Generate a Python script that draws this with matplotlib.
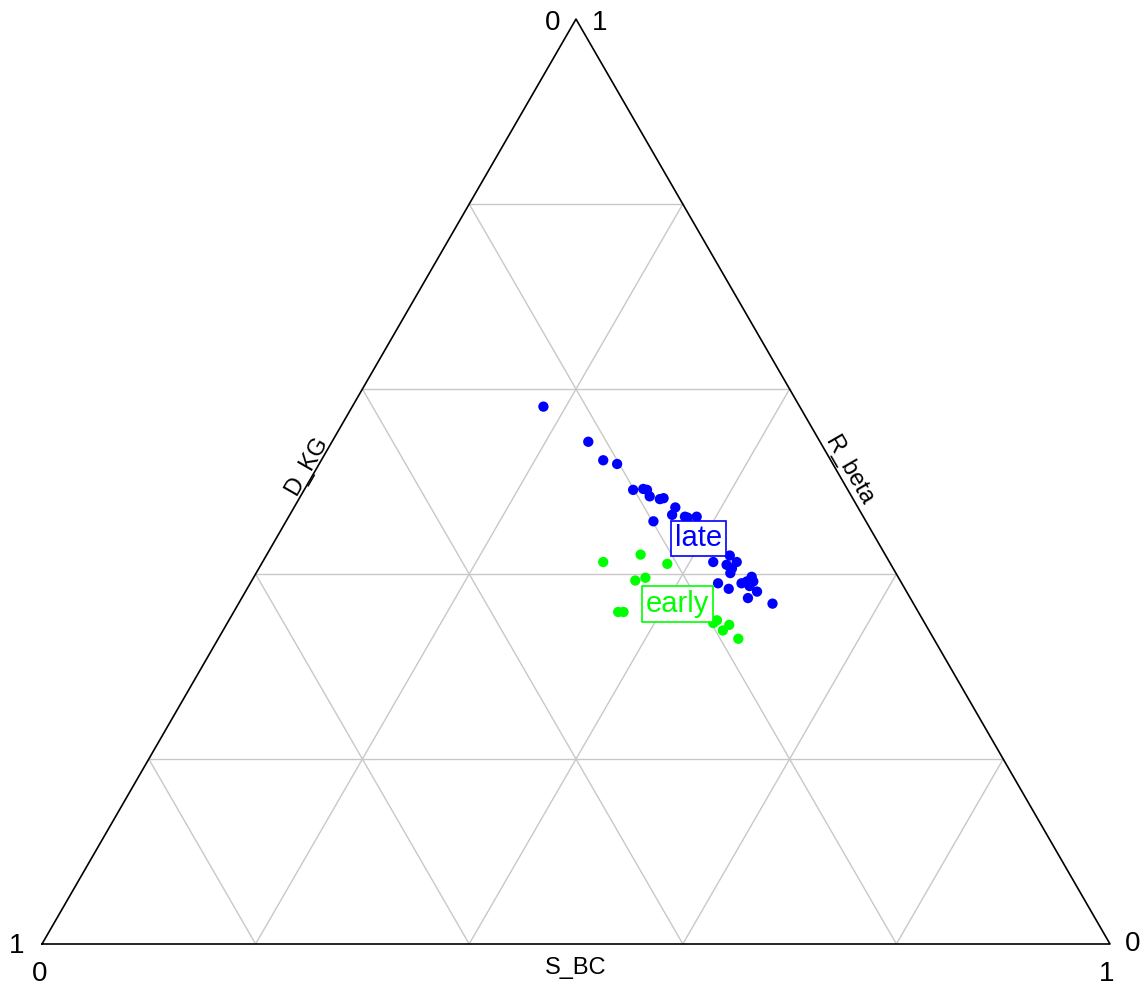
import numpy as np
import matplotlib
matplotlib.use("Agg")
import matplotlib.pyplot as plt

plt.rcParams['font.family'] = ['Liberation Sans', 'DejaVu Sans']

# ternary compositions (D_KG, S_BC, R_beta)
late_D = [0.240, 0.217, 0.213, 0.202, 0.201, 0.191, 0.188, 0.189, 0.181, 0.177, 0.171,
          0.178, 0.199, 0.167, 0.165, 0.156, 0.146, 0.143, 0.165, 0.154, 0.151, 0.155,
          0.172, 0.165, 0.150, 0.144, 0.137, 0.138, 0.144, 0.140, 0.152, 0.132]
late_S = [0.179, 0.240, 0.264, 0.279, 0.308, 0.317, 0.321, 0.327, 0.338, 0.341, 0.357,
          0.358, 0.344, 0.371, 0.374, 0.382, 0.434, 0.444, 0.422, 0.436, 0.443, 0.444,
          0.438, 0.451, 0.460, 0.464, 0.466, 0.470, 0.469, 0.479, 0.474, 0.500]
late_R = [0.581, 0.543, 0.523, 0.519, 0.491, 0.492, 0.491, 0.484, 0.481, 0.482, 0.472,
          0.464, 0.457, 0.462, 0.461, 0.462, 0.420, 0.413, 0.413, 0.410, 0.406, 0.401,
          0.390, 0.384, 0.390, 0.392, 0.397, 0.392, 0.387, 0.381, 0.374, 0.368]

early_D = [0.268, 0.229, 0.209, 0.248, 0.237, 0.281, 0.276, 0.198, 0.193, 0.193, 0.184, 0.183]
early_S = [0.319, 0.350, 0.380, 0.359, 0.367, 0.360, 0.365, 0.455, 0.457, 0.468, 0.471, 0.487]
early_R = [0.413, 0.421, 0.411, 0.393, 0.396, 0.359, 0.359, 0.347, 0.350, 0.339, 0.345, 0.330]

groups = ["late", "early"]
colors = {"late": "#0000FF", "early": "#00FF00"}
grid_levels = [0.2, 0.4, 0.6, 0.8]

H = np.sqrt(3) / 2


def proj(d, s, r):
    d, s, r = np.asarray(d, float), np.asarray(s, float), np.asarray(r, float)
    tot = d + s + r
    s, r = s / tot, r / tot
    return s + r / 2, r * H


fig = plt.figure(figsize=(11.46, 9.85), dpi=100)
ax = fig.add_axes([0, 0, 1, 1])
ax.set_xlim(-42 / 1068, (1146 - 42) / 1068)
ax.set_ylim((944 - 985) / 1068, 944 / 1068)
ax.axis('off')

# grid
gcol = '#C8C8C8'
for g in grid_levels:
    # constant R_beta
    x, y = proj([1 - g, 0], [0, 1 - g], [g, g])
    ax.plot(x, y, color=gcol, lw=1, zorder=1)
    # constant S_BC
    x, y = proj([1 - g, 0], [g, g], [0, 1 - g])
    ax.plot(x, y, color=gcol, lw=1, zorder=1)
    # constant D_KG
    x, y = proj([g, g], [1 - g, 0], [0, 1 - g])
    ax.plot(x, y, color=gcol, lw=1, zorder=1)

# outline
x, y = proj([1, 0, 0, 1], [0, 1, 0, 0], [0, 0, 1, 0])
ax.plot(x, y, color='black', lw=1.2, zorder=2)

data = {"late": (late_D, late_S, late_R), "early": (early_D, early_S, early_R)}
for gname in groups:
    x, y = proj(*data[gname])
    ax.scatter(x, y, s=55, color=colors[gname], edgecolors='none', zorder=3)

for gname in groups:
    x, y = proj(*data[gname])
    ax.text(x.mean() + 0.006, y.mean() - 0.004, gname, fontsize=21, color=colors[gname],
            ha='center', va='center', zorder=5,
            bbox=dict(boxstyle='square,pad=0.13', fc='white', ec=colors[gname], lw=1.2))

# axis names
ax.text(0.25 + 0.003, H / 2 + 0.012, "D_KG", rotation=60, rotation_mode='anchor',
        ha='center', va='baseline', fontsize=17)
ax.text(0.75 + 0.0, H / 2 + 0.008, "R_beta", rotation=-60, rotation_mode='anchor',
        ha='center', va='baseline', fontsize=17)
ax.text(0.5, -0.012, "S_BC", ha='center', va='top', fontsize=17)

# corner values
fs = 20
ax.text(0.5 - 0.022, H - 0.004, "0", ha='center', va='center', fontsize=fs)
ax.text(0.5 + 0.022, H - 0.004, "1", ha='center', va='center', fontsize=fs)
ax.text(-0.024, -0.002, "1", ha='center', va='center', fontsize=fs)
ax.text(-0.002, -0.028, "0", ha='center', va='center', fontsize=fs)
ax.text(1.021, 0.0, "0", ha='center', va='center', fontsize=fs)
ax.text(0.997, -0.028, "1", ha='center', va='center', fontsize=fs)

fig.savefig("out.png", dpi=100)
